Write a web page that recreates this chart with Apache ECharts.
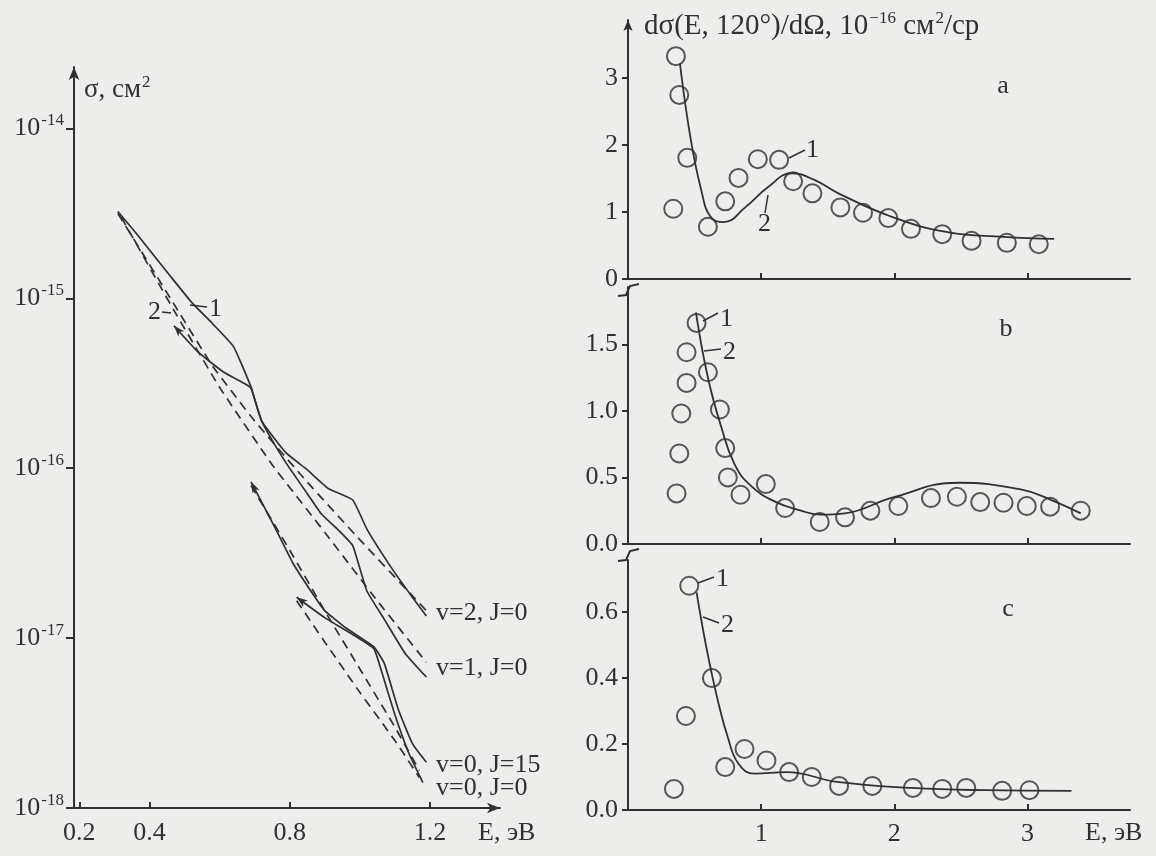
<!DOCTYPE html>
<html>
<head>
<meta charset="utf-8">
<title>Сечения</title>
<script src="https://cdn.jsdelivr.net/npm/echarts@6.0.0/dist/echarts.min.js"></script>
</head>
<body style="margin:0;padding:0;background:#ededeb;">
<div id="main" style="width:1156px;height:856px;"></div>
<script>
// ---------- data: left panel (sigma, cm^2 vs E, eV) ----------
var leftTicksX = [0.2, 0.4, 0.8, 1.2];

var v2SolidE = [0.31, 0.36, 0.41, 0.46, 0.52, 0.58, 0.64, 0.69, 0.72, 0.79, 0.85, 0.91, 0.98, 1.02, 1.09, 1.15, 1.19];
var v2SolidS = [3.24e-15, 2.45e-15, 1.82e-15, 1.35e-15, 9.5e-16, 7.1e-16, 5.2e-16, 3.0e-16, 1.9e-16, 1.23e-16, 9.8e-17, 7.6e-17, 6.5e-17, 4.4e-17, 2.6e-17, 1.74e-17, 1.35e-17];
var v2DashE = [0.31, 0.46, 0.58, 0.70, 0.85, 1.00, 1.19];
var v2DashS = [3.16e-15, 1.0e-15, 4.0e-16, 1.9e-16, 8.3e-17, 3.8e-17, 1.45e-17];

var v1SolidE = [0.47, 0.54, 0.61, 0.67, 0.69, 0.72, 0.76, 0.80, 0.85, 0.89, 0.94, 0.98, 1.02, 1.07, 1.13, 1.19];
var v1SolidS = [6.9e-16, 4.8e-16, 3.7e-16, 3.16e-16, 2.95e-16, 1.9e-16, 1.35e-16, 1.0e-16, 7.1e-17, 5.4e-17, 4.3e-17, 3.5e-17, 1.9e-17, 1.29e-17, 8.1e-18, 5.9e-18];
var v1DashE = [0.32, 0.47, 0.60, 0.75, 0.90, 1.05, 1.19];
var v1DashS = [3.0e-15, 8.5e-16, 3.0e-16, 1.05e-16, 4.2e-17, 1.66e-17, 7.2e-18];

var j15SolidE = [0.69, 0.76, 0.81, 0.86, 0.90, 0.96, 1.04, 1.07, 1.11, 1.15, 1.19];
var j15SolidS = [8.3e-17, 4.4e-17, 2.75e-17, 1.9e-17, 1.45e-17, 1.15e-17, 8.9e-18, 7.1e-18, 3.8e-18, 2.4e-18, 1.86e-18];
var j15DashE = [0.69, 0.80, 0.90, 1.00, 1.10, 1.17];
var j15DashS = [7.9e-17, 3.3e-17, 1.45e-17, 6.6e-18, 3.0e-18, 1.66e-18];

var j0SolidE = [0.82, 0.90, 0.98, 1.04, 1.06, 1.10, 1.14, 1.18];
var j0SolidS = [1.74e-17, 1.32e-17, 1.05e-17, 8.7e-18, 6.6e-18, 3.55e-18, 2.1e-18, 1.41e-18];
var j0DashE = [0.82, 0.90, 1.00, 1.10, 1.17];
var j0DashS = [1.66e-17, 9.5e-18, 4.8e-18, 2.5e-18, 1.51e-18];

var stateLabels = ['v=2, J=0', 'v=1, J=0', 'v=0, J=15', 'v=0, J=0'];

// ---------- data: right panels (dsigma/dOmega, 1e-16 cm^2/sr) ----------
var rightTicksX = [1, 2, 3];
var ticksA = [0, 1, 2, 3];
var ticksB = [0, 0.5, 1.0, 1.5];
var ticksC = [0, 0.2, 0.4, 0.6];

var aCircE = [0.34, 0.36, 0.385, 0.445, 0.60, 0.73, 0.83, 0.975, 1.135, 1.24, 1.385, 1.595, 1.765, 1.955, 2.125, 2.36, 2.58, 2.845, 3.085];
var aCircV = [1.05, 3.33, 2.75, 1.81, 0.78, 1.16, 1.51, 1.79, 1.78, 1.46, 1.28, 1.07, 0.99, 0.91, 0.75, 0.67, 0.57, 0.54, 0.52];
var aCurveE = [0.39, 0.47, 0.55, 0.62, 0.72, 0.88, 1.05, 1.23, 1.40, 1.58, 1.98, 2.40, 2.82, 3.20];
var aCurveV = [3.22, 2.10, 1.33, 0.93, 0.85, 1.07, 1.37, 1.58, 1.48, 1.28, 0.93, 0.70, 0.63, 0.60];

var bCircE = [0.365, 0.385, 0.40, 0.44, 0.44, 0.515, 0.60, 0.69, 0.73, 0.75, 0.845, 1.035, 1.18, 1.44, 1.63, 1.82, 2.03, 2.275, 2.47, 2.645, 2.82, 2.995, 3.17, 3.40];
var bCircV = [0.38, 0.68, 0.98, 1.21, 1.44, 1.66, 1.29, 1.01, 0.72, 0.50, 0.37, 0.45, 0.27, 0.165, 0.20, 0.25, 0.285, 0.345, 0.355, 0.315, 0.31, 0.285, 0.28, 0.25];
var bCurveE = [0.51, 0.60, 0.70, 0.80, 0.92, 1.10, 1.30, 1.45, 1.63, 1.99, 2.48, 2.95, 3.18, 3.40];
var bCurveV = [1.74, 1.25, 0.88, 0.60, 0.44, 0.32, 0.25, 0.22, 0.23, 0.35, 0.46, 0.41, 0.33, 0.23];

var cCircE = [0.345, 0.435, 0.46, 0.63, 0.73, 0.875, 1.04, 1.21, 1.38, 1.585, 1.835, 2.14, 2.36, 2.54, 2.81, 3.015];
var cCircV = [0.064, 0.285, 0.68, 0.40, 0.13, 0.185, 0.15, 0.115, 0.10, 0.073, 0.073, 0.067, 0.064, 0.067, 0.058, 0.06];
var cCurveE = [0.515, 0.59, 0.67, 0.75, 0.83, 0.95, 1.19, 1.57, 2.13, 2.68, 3.33];
var cCurveV = [0.66, 0.49, 0.34, 0.22, 0.14, 0.11, 0.115, 0.085, 0.067, 0.06, 0.058];

// ---------- helpers ----------
var INK = '#303030';
var SERIF = '"Liberation Serif", "DejaVu Serif", serif';
var FS = 26;

function pairs(xs, ys) {
    var out = [];
    for (var i = 0; i < xs.length; i++) out.push([xs[i], ys[i]]);
    return out;
}

// arrowStart: rotation (deg) of a small arrowhead drawn on the first point
function leftLine(xs, ys, dashed, arrowStart) {
    var data = pairs(xs, ys);
    if (arrowStart != null) {
        data[0] = { value: data[0], symbol: 'arrow', symbolSize: [6, 11], symbolRotate: arrowStart, itemStyle: { color: INK } };
    }
    return {
        type: 'line', xAxisIndex: 0, yAxisIndex: 0,
        data: data, symbol: 'none', showSymbol: arrowStart != null, smooth: 0.12, silent: true,
        lineStyle: { color: INK, width: 1.7, type: dashed ? [9, 6] : 'solid' }
    };
}

function rightCurve(idx, xs, ys) {
    return {
        type: 'line', xAxisIndex: idx, yAxisIndex: idx,
        data: pairs(xs, ys), symbol: 'none', smooth: 0.45, silent: true,
        lineStyle: { color: INK, width: 1.8 }
    };
}

function rightDots(idx, xs, ys) {
    return {
        type: 'scatter', xAxisIndex: idx, yAxisIndex: idx,
        data: pairs(xs, ys), symbol: 'circle', symbolSize: 18, silent: true,
        itemStyle: { color: 'rgba(0,0,0,0)', borderColor: INK, borderWidth: 2 }
    };
}

function rightX(idx, showLabels) {
    return {
        type: 'value', gridIndex: idx, min: 0, max: 3.77,
        axisLine: { lineStyle: { color: INK, width: 2 } },
        axisTick: { inside: true, length: 6, customValues: rightTicksX, lineStyle: { color: INK, width: 2 } },
        axisLabel: { show: showLabels, customValues: rightTicksX, margin: 11, color: INK, fontSize: FS, fontFamily: SERIF },
        splitLine: { show: false }
    };
}

function rightY(idx, max, ticks, digits, arrow) {
    return {
        type: 'value', gridIndex: idx, min: 0, max: max,
        axisLine: { lineStyle: { color: INK, width: 2 }, symbol: arrow ? ['none', 'arrow'] : 'none', symbolSize: [7, 11] },
        axisTick: { inside: false, length: 6, customValues: ticks, lineStyle: { color: INK, width: 2 } },
        axisLabel: {
            customValues: ticks, margin: 10, color: INK, fontSize: FS, fontFamily: SERIF,
            formatter: function (v) { return v.toFixed(digits); }
        },
        splitLine: { show: false }
    };
}

function txt(x, y, s, align) {
    return {
        type: 'text', x: x, y: y, silent: true,
        style: { text: s, fill: INK, fontSize: FS, fontFamily: SERIF, align: align || 'left', verticalAlign: 'middle' }
    };
}

function seg(x1, y1, x2, y2) {
    return { type: 'line', silent: true, shape: { x1: x1, y1: y1, x2: x2, y2: y2 }, style: { stroke: INK, lineWidth: 1.5 } };
}

function brk(y) {
    return { type: 'polyline', silent: true, shape: { points: [[618, y + 6], [626, y + 5], [630, y - 4], [639, y - 6]] }, style: { stroke: INK, lineWidth: 2, fill: null } };
}

var supRich = {
    s: { fontSize: 17, fontFamily: SERIF, fill: INK, padding: [0, 0, 15, 1] }
};

// ---------- chart ----------
var chart = echarts.init(document.getElementById('main'));

var option = {
    backgroundColor: '#ededeb',
    animation: false,
    grid: [
        { left: 74, top: 67, width: 426, height: 741 },
        { left: 628, top: 20, width: 502, height: 259 },
        { left: 628, top: 287, width: 502, height: 257 },
        { left: 628, top: 560, width: 502, height: 250 }
    ],
    xAxis: [
        {
            type: 'value', gridIndex: 0, min: 0.185, max: 1.40,
            axisLine: { lineStyle: { color: INK, width: 2 }, symbol: ['none', 'arrow'], symbolSize: [8, 13] },
            axisTick: { inside: true, length: 6, customValues: leftTicksX, lineStyle: { color: INK, width: 2 } },
            axisLabel: {
                customValues: leftTicksX, margin: 12, color: INK, fontSize: FS, fontFamily: SERIF,
                formatter: function (v) { return v.toFixed(1); }
            },
            splitLine: { show: false }
        },
        rightX(1, false),
        rightX(2, false),
        rightX(3, true)
    ],
    yAxis: [
        {
            type: 'log', logBase: 10, gridIndex: 0, min: 1e-18, max: 2.3e-14,
            axisLine: { lineStyle: { color: INK, width: 2 }, symbol: ['none', 'arrow'], symbolSize: [8, 13] },
            axisTick: { inside: false, length: 8, lineStyle: { color: INK, width: 2 } },
            axisLabel: {
                margin: 10, showMaxLabel: false, color: INK,
                formatter: function (v) { return '{b|10}{s|' + Math.round(Math.log10(v)) + '}'; },
                rich: {
                    b: { fontSize: FS, fontFamily: SERIF, color: INK },
                    s: { fontSize: 17, fontFamily: SERIF, color: INK, padding: [0, 0, 15, 1] }
                }
            },
            splitLine: { show: false },
            minorSplitLine: { show: false }
        },
        rightY(1, 3.87, ticksA, 0, true),
        rightY(2, 1.93, ticksB, 1, false),
        rightY(3, 0.758, ticksC, 1, false)
    ],
    series: [
        leftLine(v2SolidE, v2SolidS, false),
        leftLine(v2DashE, v2DashS, true),
        leftLine(v1SolidE, v1SolidS, false, 42),
        leftLine(v1DashE, v1DashS, true),
        leftLine(j15SolidE, j15SolidS, false, 27),
        leftLine(j15DashE, j15DashS, true),
        leftLine(j0SolidE, j0SolidS, false, 54),
        leftLine(j0DashE, j0DashS, true),
        rightCurve(1, aCurveE, aCurveV),
        rightDots(1, aCircE, aCircV),
        rightCurve(2, bCurveE, bCurveV),
        rightDots(2, bCircE, bCircV),
        rightCurve(3, cCurveE, cCurveV),
        rightDots(3, cCircE, cCircV)
    ],
    graphic: [
        // left panel
        {
            type: 'text', x: 84, y: 90, silent: true,
            style: { text: 'σ, см{s|2}', rich: supRich, fill: INK, fontSize: 27, fontFamily: SERIF, align: 'left', verticalAlign: 'middle' }
        },
        seg(190, 305, 207, 307), txt(209, 309, '1'),
        seg(162, 312, 171, 313), txt(161, 312, '2', 'right'),
        txt(436, 613, stateLabels[0]),
        txt(436, 668, stateLabels[1]),
        txt(436, 765, stateLabels[2]),
        txt(436, 788, stateLabels[3]),
        txt(478, 833, 'E, эВ'),
        // right panels
        {
            type: 'text', x: 644, y: 26, silent: true,
            style: { text: 'dσ(E, 120°)/dΩ, 10{s|−16} см{s|2}/ср', rich: supRich, fill: INK, fontSize: 29, fontFamily: SERIF, align: 'left', verticalAlign: 'middle' }
        },
        txt(1003, 86, 'a', 'center'),
        txt(1006, 329, 'b', 'center'),
        txt(1008, 609, 'c', 'center'),
        seg(789, 158, 805, 150), txt(806, 150, '1'),
        seg(765, 213, 768, 195), txt(758, 224, '2'),
        seg(703, 321, 718, 313), txt(720, 319, '1'),
        seg(704, 351, 721, 349), txt(723, 352, '2'),
        seg(698, 583, 714, 577), txt(716, 579, '1'),
        seg(703, 617, 719, 623), txt(721, 625, '2'),
        txt(1085, 833, 'E, эВ'),
        brk(290),
        brk(555)
    ]
};

chart.setOption(option);
</script>
</body>
</html>
